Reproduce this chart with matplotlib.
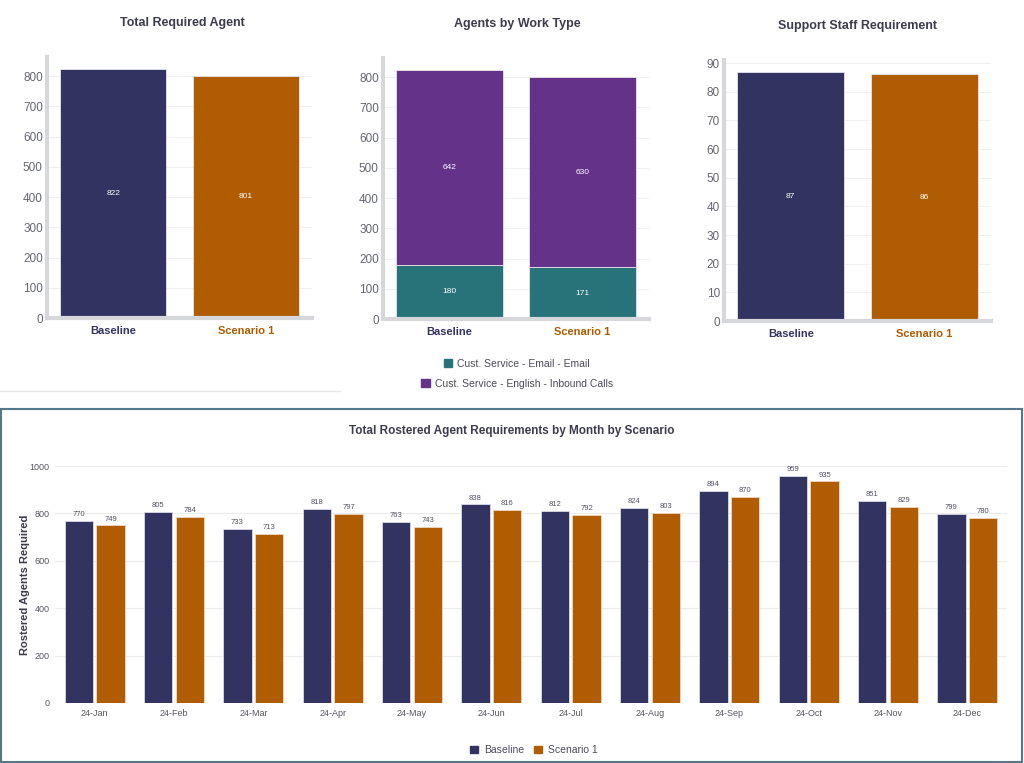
import matplotlib
matplotlib.use('Agg')
import matplotlib.pyplot as plt
import numpy as np
from matplotlib.patches import Rectangle, Patch

plt.rcParams['font.family'] = ['Liberation Sans', 'DejaVu Sans']

scenarios = ['Baseline', 'Scenario 1']
total_agents = [822, 801]
email_agents = [180, 171]
inbound_agents = [642, 630]
support_staff = [87, 86]
work_types = ['Cust. Service - Email - Email', 'Cust. Service - English - Inbound Calls']

months = ['24-Jan', '24-Feb', '24-Mar', '24-Apr', '24-May', '24-Jun',
          '24-Jul', '24-Aug', '24-Sep', '24-Oct', '24-Nov', '24-Dec']
monthly_baseline = [770, 805, 733, 818, 763, 838, 812, 824, 894, 959, 851, 799]
monthly_scenario = [749, 784, 713, 797, 743, 816, 792, 803, 870, 935, 829, 780]

NAVY = '#333362'
ORANGE = '#b05c03'
TEAL = '#277379'
PURPLE = '#643289'
TXT = '#3c3c4c'
TICK = '#666672'
GRID = '#efefef'
AXIS = '#d6d7db'

W, H = 1024, 763
fig = plt.figure(figsize=(W / 100, H / 100), dpi=100)


def px_axes(left, top, right, bottom):
    return fig.add_axes([left / W, 1 - bottom / H, (right - left) / W, (bottom - top) / H])


def style_top(ax, ymax, step):
    ax.set_ylim(0, ymax)
    ax.set_xlim(-0.5, 1.5)
    ax.set_yticks(np.arange(0, ymax, step))
    ax.yaxis.grid(True, color=GRID, linewidth=0.7)
    ax.set_axisbelow(True)
    for s in ['top', 'right']:
        ax.spines[s].set_visible(False)
    for s in ['left', 'bottom']:
        ax.spines[s].set_color(AXIS)
        ax.spines[s].set_linewidth(3)
    ax.tick_params(length=0, labelsize=8.5, labelcolor=TICK, pad=3)
    ax.tick_params(axis='x', pad=6)
    ax.set_xticks(range(len(scenarios)))
    ax.set_xticklabels(scenarios, fontweight='bold', fontsize=8)
    for lbl, c in zip(ax.get_xticklabels(), [NAVY, ORANGE]):
        lbl.set_color(c)


x = np.arange(len(scenarios))

# Total Required Agent
ax1 = px_axes(47, 57, 312, 318)
bars = ax1.bar(x, total_agents, width=0.8, color=[NAVY, ORANGE], edgecolor='#e6e6ee', linewidth=0.6)
for b, v in zip(bars, total_agents):
    ax1.text(b.get_x() + b.get_width() / 2, v / 2, str(v), ha='center', va='center',
             fontsize=6, color='white')
style_top(ax1, 863, 100)
fig.text(182 / W, 1 - 23 / H, 'Total Required Agent', ha='center', va='center',
         fontsize=9, fontweight='bold', color=TXT)

# Agents by Work Type
ax2 = px_axes(383, 58, 649, 319)
b1 = ax2.bar(x, email_agents, width=0.8, color=TEAL, edgecolor='#e6e6ee', linewidth=0.6)
b2 = ax2.bar(x, inbound_agents, width=0.8, bottom=email_agents, color=PURPLE,
             edgecolor='#e6e6ee', linewidth=0.6)
for i in range(len(scenarios)):
    ax2.text(i, email_agents[i] / 2, str(email_agents[i]), ha='center', va='center',
             fontsize=6, color='white')
    ax2.text(i, email_agents[i] + inbound_agents[i] / 2, str(inbound_agents[i]),
             ha='center', va='center', fontsize=6, color='white')
style_top(ax2, 863, 100)
fig.text(517 / W, 1 - 24 / H, 'Agents by Work Type', ha='center', va='center',
         fontsize=9, fontweight='bold', color=TXT)
for lab, col, yy in zip(work_types, [TEAL, PURPLE], [364, 384]):
    fig.legend(handles=[Patch(color=col)], labels=[lab], loc='center',
               bbox_to_anchor=(517 / W, 1 - yy / H), frameon=False, fontsize=7.5,
               handlelength=0.8, handleheight=0.8, handletextpad=0.5,
               labelcolor='#4a4a5a', borderpad=0)

# Support Staff Requirement
ax3 = px_axes(724, 60, 991, 321)
bars = ax3.bar(x, support_staff, width=0.8, color=[NAVY, ORANGE], edgecolor='#e6e6ee', linewidth=0.6)
for b, v in zip(bars, support_staff):
    ax3.text(b.get_x() + b.get_width() / 2, v / 2, str(v), ha='center', va='center',
             fontsize=6, color='white')
style_top(ax3, 91.05, 10)
fig.text(858 / W, 1 - 26 / H, 'Support Staff Requirement', ha='center', va='center',
         fontsize=9, fontweight='bold', color=TXT)

# separator under first chart
fig.add_artist(plt.Line2D([0, 340 / W], [1 - 391 / H, 1 - 391 / H], color='#e8e8e8', linewidth=1))

# bottom panel frame
fig.add_artist(Rectangle((1 / W, 1 - 762 / H), 1021 / W, 353 / H, transform=fig.transFigure,
                         fill=False, edgecolor='#56768a', linewidth=1.5))

ax4 = px_axes(55, 466, 1007, 703)
mx = np.arange(len(months))
w = 0.36
bb = ax4.bar(mx - 0.2, monthly_baseline, width=w, color=NAVY, edgecolor='#dcdce6', linewidth=0.6,
             label='Baseline')
bs = ax4.bar(mx + 0.2, monthly_scenario, width=w, color=ORANGE, edgecolor='#f0d8c0', linewidth=0.6,
             label='Scenario 1')
for bar_set, vals in [(bb, monthly_baseline), (bs, monthly_scenario)]:
    for b, v in zip(bar_set, vals):
        ax4.text(b.get_x() + b.get_width() / 2, v + 12, str(v), ha='center', va='bottom',
                 fontsize=5.5, color='#505060')
ax4.set_ylim(0, 1000)
ax4.set_xlim(-0.5, len(months) - 0.5)
ax4.set_yticks(np.arange(0, 1001, 200))
ax4.yaxis.grid(True, color='#ebebeb', linewidth=0.8)
ax4.set_axisbelow(True)
for s in ax4.spines.values():
    s.set_visible(False)
ax4.tick_params(length=0, labelsize=6.5, labelcolor='#555560', pad=4)
ax4.set_xticks(mx)
ax4.set_xticklabels(months)
ax4.set_ylabel('Rostered Agents Required', fontsize=8, fontweight='bold', color=TXT, va='center')
ax4.yaxis.set_label_coords(-30 / 952, 0.5)
fig.text(512 / W, 1 - 431 / H, 'Total Rostered Agent Requirements by Month by Scenario',
         ha='center', va='center', fontsize=8.5, fontweight='bold', color=TXT)
fig.legend(handles=[Patch(color=NAVY), Patch(color=ORANGE)], labels=['Baseline', 'Scenario 1'],
           loc='center', bbox_to_anchor=(534 / W, 1 - 750 / H), ncol=2, frameon=False,
           fontsize=7.5, handlelength=0.7, handleheight=0.7, handletextpad=0.6,
           columnspacing=1.0, labelcolor='#4a4a5a', borderpad=0)

fig.savefig('out.png', dpi=100)
